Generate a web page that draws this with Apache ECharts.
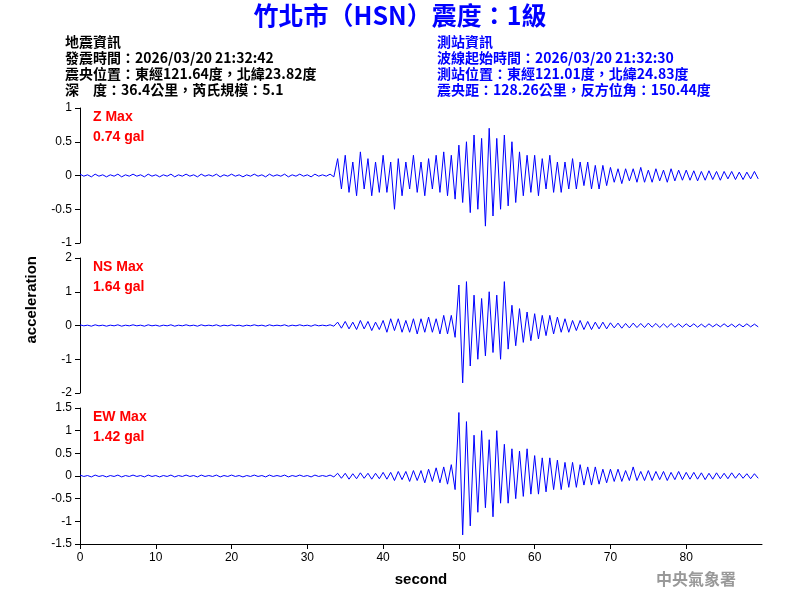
<!DOCTYPE html>
<html>
<head>
<meta charset="utf-8">
<script src="https://cdn.jsdelivr.net/npm/echarts@6/dist/echarts.min.js"></script>
<style>html,body{margin:0;padding:0;background:#fff}#chart{width:800px;height:600px}</style>
</head>
<body>
<div id="chart"></div>
<script>
// sample step 0.5 s, first 68 samples (0-34 s) are pre-event noise
var step = 0.5;
var quiet = [
    0.02,-0.01,0.01,-0.02,0.02,-0.01,0.01,-0.02,0.01,-0.01,
    0.02,-0.02,0.01,-0.01,0.02,-0.01,0.01,-0.02,0.02,-0.01,
    0.01,-0.02,0.01,-0.01,0.02,-0.02,0.01,-0.01,0.02,-0.01,
    0.01,-0.02,0.02,-0.01,0.01,-0.01,0.02,-0.02,0.01,-0.01,
    0.02,-0.01,0.01,-0.02,0.01,-0.01,0.02,-0.01,0.01,-0.02,
    0.02,-0.01,0.01,-0.01,0.02,-0.02,0.01,-0.01,0.02,-0.01,
    0.01,-0.02,0.02,-0.01,0.01,-0.01,0.02,-0.02
];
var zWave = [
    0.25,-0.2,0.3,-0.25,0.2,-0.3,0.35,-0.2,0.25,-0.3,0.2,-0.25,
    0.3,-0.25,0.2,-0.5,0.25,-0.3,0.2,-0.2,0.3,-0.25,0.2,-0.3,0.25,-0.2,0.3,-0.25,0.35,-0.3,0.3,-0.35,
    0.45,-0.4,0.5,-0.55,0.6,-0.5,0.55,-0.75,0.7,-0.6,0.55,-0.5,0.6,-0.45,0.5,-0.4,
    0.35,-0.3,0.3,-0.25,0.3,-0.3,0.25,-0.2,0.3,-0.25,0.2,-0.25,0.2,-0.2,0.25,-0.2,0.2,-0.15,0.2,-0.2,0.15,-0.2,0.15,-0.15,
    0.12,-0.1,0.1,-0.12,0.1,-0.08,0.1,-0.1,0.12,-0.1,0.08,-0.1,0.1,-0.08,0.08,-0.1,0.1,-0.08,0.08,-0.07,
    0.08,-0.07,0.07,-0.08,0.06,-0.07,0.07,-0.06,0.06,-0.07,0.06,-0.05,0.06,-0.06,0.05,-0.06,0.05,-0.05,0.06,-0.05
];
var nsWave = [
    0.1,-0.08,0.12,-0.1,0.1,-0.12,0.15,-0.1,0.12,-0.15,0.1,-0.12,
    0.15,-0.2,0.2,-0.15,0.2,-0.2,0.15,-0.2,0.2,-0.25,0.2,-0.2,0.25,-0.2,0.2,-0.25,0.3,-0.25,0.3,-0.35,
    1.2,-1.7,1.3,-1.2,0.9,-1.0,0.8,-0.9,1.0,-0.8,0.9,-1.0,1.3,-0.7,0.6,-0.6,
    0.5,-0.5,0.4,-0.45,0.35,-0.4,0.3,-0.3,0.3,-0.25,0.25,-0.2,0.2,-0.2,0.15,-0.15,0.15,-0.12,0.12,-0.12,0.1,-0.1,0.1,-0.1,
    0.08,-0.07,0.07,-0.08,0.06,-0.07,0.07,-0.06,0.06,-0.06,0.07,-0.05,0.06,-0.06,0.05,-0.06,0.06,-0.05,0.05,-0.05,
    0.05,-0.04,0.05,-0.05,0.04,-0.05,0.05,-0.04,0.04,-0.04,0.05,-0.04,0.04,-0.05,0.04,-0.04,0.05,-0.04,0.04,-0.04
];
var ewWave = [
    0.06,-0.05,0.06,-0.07,0.05,-0.06,0.07,-0.05,0.06,-0.07,0.06,-0.06,
    0.08,-0.07,0.08,-0.1,0.1,-0.08,0.1,-0.12,0.12,-0.1,0.12,-0.15,0.15,-0.12,0.18,-0.15,0.2,-0.18,0.25,-0.3,
    1.4,-1.3,1.2,-1.1,0.9,-0.8,1.0,-0.7,0.8,-0.9,1.0,-0.6,0.7,-0.6,0.6,-0.5,
    0.55,-0.45,0.6,-0.4,0.45,-0.4,0.4,-0.35,0.4,-0.3,0.35,-0.3,0.3,-0.25,0.3,-0.25,0.25,-0.2,0.2,-0.2,0.2,-0.18,0.15,-0.15,
    0.15,-0.12,0.15,-0.12,0.12,-0.1,0.2,-0.1,0.1,-0.1,0.12,-0.1,0.1,-0.08,0.1,-0.1,0.08,-0.08,0.1,-0.08,
    0.08,-0.07,0.08,-0.07,0.07,-0.08,0.06,-0.07,0.07,-0.06,0.06,-0.06,0.07,-0.05,0.06,-0.05,0.05,-0.06,0.05,-0.05
];
var panelNames = ['Z Max', 'NS Max', 'EW Max'];
var panelMax = ['0.74 gal', '1.64 gal', '1.42 gal'];
var yMin = [-1, -2, -1.5];
var yMax = [1, 2, 1.5];
var yInterval = [0.5, 1, 0.5];
var infoLeft = ['地震資訊', '發震時間：2026/03/20 21:32:42', '震央位置：東經121.64度，北緯23.82度', '深　度：36.4公里，芮氏規模：5.1'];
var infoRight = ['測站資訊', '波線起始時間：2026/03/20 21:32:30', '測站位置：東經121.01度，北緯24.83度', '震央距：128.26公里，反方位角：150.44度'];

function toPairs(arr) {
    var all = quiet.concat(arr);
    return all.map(function (v, i) { return [i * step, v]; });
}
var waves = [toPairs(zWave), toPairs(nsWave), toPairs(ewWave)];

var tops = [108, 258, 408];
var heights = [135, 135, 136];
var grids = [], xAxes = [], yAxes = [], series = [], graphics = [];
var cjk = '"Noto Sans CJK TC", sans-serif';

for (var i = 0; i < 3; i++) {
    grids.push({ left: 80, right: 38, top: tops[i], height: heights[i] });
    xAxes.push({
        gridIndex: i, type: 'value', min: 0, max: 90, interval: 10,
        show: i == 2,
        axisLine: { onZero: false, lineStyle: { color: '#000' } },
        axisTick: { lineStyle: { color: '#000' } },
        axisLabel: { color: '#000', fontSize: 12, fontFamily: 'Arial', showMaxLabel: false },
        splitLine: { show: false },
        name: i == 2 ? 'second' : '', nameLocation: 'middle', nameGap: 28,
        nameTextStyle: { color: '#000', fontSize: 15, fontWeight: 'bold', fontFamily: 'Arial' }
    });
    yAxes.push({
        gridIndex: i, type: 'value', min: yMin[i], max: yMax[i], interval: yInterval[i],
        axisLine: { show: true, lineStyle: { color: '#000' } },
        axisTick: { show: true, lineStyle: { color: '#000' } },
        axisLabel: { color: '#000', fontSize: 12, fontFamily: 'Arial' },
        splitLine: { show: false }
    });
    series.push({
        type: 'line', xAxisIndex: i, yAxisIndex: i, data: waves[i],
        symbol: 'none', lineStyle: { color: '#0000ff', width: 1 }, animation: false
    });
    graphics.push({ type: 'text', left: 93, top: tops[i] + 2, style: { text: panelNames[i], fill: '#ff0000', font: 'bold 14px Arial' } });
    graphics.push({ type: 'text', left: 93, top: tops[i] + 22, style: { text: panelMax[i], fill: '#ff0000', font: 'bold 14px Arial' } });
}

graphics.push({ type: 'text', left: 'center', top: 3, style: { text: '竹北市（HSN）震度：1級', fill: '#0000ff', font: 'bold 25px ' + cjk } });
for (var j = 0; j < 4; j++) {
    graphics.push({ type: 'text', left: 65, top: 35 + j * 16, style: { text: infoLeft[j], fill: '#000', font: 'bold 14px ' + cjk } });
    graphics.push({ type: 'text', left: 437, top: 35 + j * 16, style: { text: infoRight[j], fill: '#0000ff', font: 'bold 14px ' + cjk } });
}
graphics.push({ type: 'text', left: 24, top: 256, rotation: Math.PI / 2, style: { text: 'acceleration', fill: '#000', font: 'bold 15px Arial' } });
graphics.push({ type: 'text', left: 656, top: 571, style: { text: '中央氣象署', fill: '#999', font: 'bold 16px "Noto Sans CJK TC", serif' } });

var myChart = echarts.init(document.getElementById('chart'));
myChart.setOption({
    backgroundColor: '#fff',
    animation: false,
    grid: grids, xAxis: xAxes, yAxis: yAxes, series: series,
    graphic: graphics
});
</script>
</body>
</html>
